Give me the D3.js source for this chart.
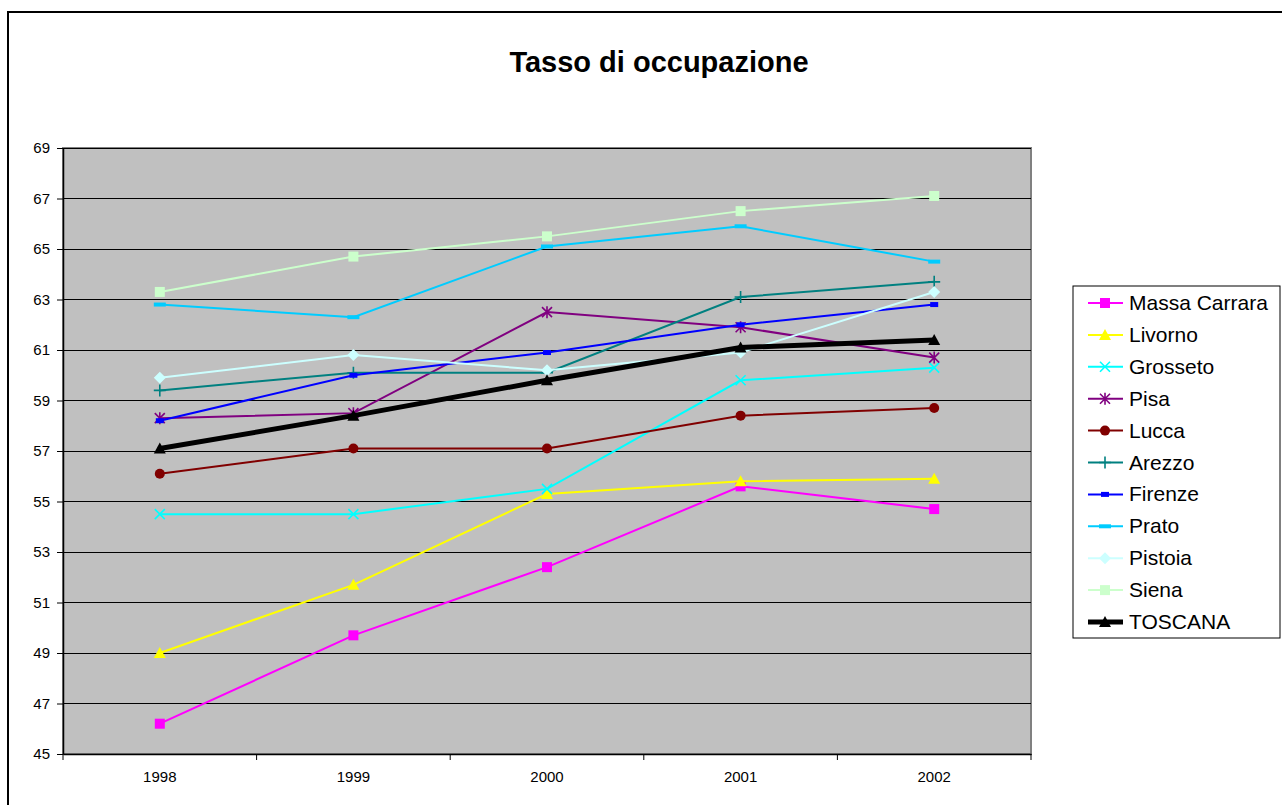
<!DOCTYPE html>
<html>
<head>
<meta charset="utf-8">
<script src="https://cdn.jsdelivr.net/npm/d3@7"></script>
<style>
  body { margin: 0; background: #fff; }
  text { font-family: 'Liberation Sans', Arial, sans-serif; }
</style>
</head>
<body>
<div id="chart"></div>
<script>
const years = ['1998', '1999', '2000', '2001', '2002'];
const massaCarrara = [46.2, 49.7, 52.4, 55.6, 54.7];
const livorno = [49.0, 51.7, 55.3, 55.8, 55.9];
const grosseto = [54.5, 54.5, 55.5, 59.8, 60.3];
const pisa = [58.3, 58.5, 62.5, 61.9, 60.7];
const lucca = [56.1, 57.1, 57.1, 58.4, 58.7];
const arezzo = [59.4, 60.1, 60.1, 63.1, 63.7];
const firenze = [58.2, 60.0, 60.9, 62.0, 62.8];
const prato = [62.8, 62.3, 65.1, 65.9, 64.5];
const pistoia = [59.9, 60.8, 60.2, 60.9, 63.3];
const siena = [63.3, 64.7, 65.5, 66.5, 67.1];
const toscana = [57.1, 58.4, 59.8, 61.1, 61.4];
const seriesNames = ['Massa Carrara', 'Livorno', 'Grosseto', 'Pisa', 'Lucca', 'Arezzo',
  'Firenze', 'Prato', 'Pistoia', 'Siena', 'TOSCANA'];
const seriesColors = ['#ff00ff', '#ffff00', '#00ffff', '#800080', '#800000', '#008080',
  '#0000ff', '#00ccff', '#ccffff', '#ccffcc', '#000000'];
const seriesMarkers = ['square', 'triangle', 'x', 'star', 'circle', 'plus',
  'bar', 'dash', 'diamond', 'square', 'triangle'];
const yTicks = d3.range(45, 70, 2);

const series = seriesNames.map((name, i) => ({
  name,
  color: seriesColors[i],
  marker: seriesMarkers[i],
  values: [massaCarrara, livorno, grosseto, pisa, lucca, arezzo, firenze, prato, pistoia, siena, toscana][i],
}));

const width = 1282;
const height = 805;
const margin = { top: 148, right: 251, bottom: 51, left: 63 };

const x = d3.scaleBand()
  .domain(years)
  .range([margin.left, width - margin.right])
  .padding(0);

const y = d3.scaleLinear()
  .domain([45, 69])
  .range([height - margin.bottom, margin.top]);

const svg = d3.select('#chart')
  .append('svg')
  .attr('width', width)
  .attr('height', height);

// outer chart frame
svg.append('rect')
  .attr('x', 8).attr('y', 12)
  .attr('width', width + 20).attr('height', height + 20)
  .attr('fill', '#fff')
  .attr('stroke', '#000')
  .attr('stroke-width', 2);

svg.append('text')
  .attr('x', 659)
  .attr('y', 72)
  .attr('text-anchor', 'middle')
  .attr('font-size', 29)
  .attr('font-weight', 'bold')
  .text('Tasso di occupazione');

// plot area
svg.append('rect')
  .attr('x', margin.left).attr('y', margin.top)
  .attr('width', width - margin.right - margin.left)
  .attr('height', height - margin.bottom - margin.top)
  .attr('fill', '#c0c0c0')
  .attr('stroke', '#808080')
  .attr('stroke-width', 2);

// gridlines
svg.append('g')
  .selectAll('line')
  .data(yTicks.slice(1))
  .join('line')
  .attr('x1', margin.left)
  .attr('x2', width - margin.right)
  .attr('y1', (d) => y(d))
  .attr('y2', (d) => y(d))
  .attr('stroke', '#000')
  .attr('stroke-width', 1)
  .attr('shape-rendering', 'crispEdges');

const yAxis = (g) => g
  .attr('transform', `translate(${margin.left},0)`)
  .call(d3.axisLeft(y).tickValues(yTicks).tickSize(6).tickSizeOuter(0).tickPadding(7))
  .call((g) => g.select('.domain').attr('stroke', '#000').attr('stroke-width', 1.5))
  .call((g) => g.selectAll('text').attr('font-size', 15).attr('fill', '#000')
    .attr('font-family', "'Liberation Sans', Arial, sans-serif"));

const xAxis = (g) => g
  .attr('transform', `translate(0,${height - margin.bottom})`)
  .call(d3.axisBottom(x).tickSize(0).tickPadding(17))
  .call((g) => g.select('.domain').attr('stroke', '#000').attr('stroke-width', 1.5))
  .call((g) => g.selectAll('text').attr('font-size', 15).attr('fill', '#000')
    .attr('font-family', "'Liberation Sans', Arial, sans-serif"));

svg.append('g').classed('y-axis', true).call(yAxis);
svg.append('g').classed('x-axis', true).call(xAxis);

// category boundary ticks on the x axis
svg.append('g')
  .selectAll('line')
  .data(years.concat(['end']))
  .join('line')
  .attr('x1', (d, i) => margin.left + i * x.bandwidth())
  .attr('x2', (d, i) => margin.left + i * x.bandwidth())
  .attr('y1', height - margin.bottom)
  .attr('y2', height - margin.bottom + 6)
  .attr('stroke', '#000');

function drawMarker(g, type, color, cx, cy) {
  if (type === 'square') {
    g.append('rect').attr('x', cx - 5).attr('y', cy - 5).attr('width', 10).attr('height', 10)
      .attr('fill', color);
  } else if (type === 'triangle') {
    g.append('path').attr('d', `M${cx},${cy - 6}L${cx + 6},${cy + 5}L${cx - 6},${cy + 5}Z`)
      .attr('fill', color);
  } else if (type === 'circle') {
    g.append('circle').attr('cx', cx).attr('cy', cy).attr('r', 5).attr('fill', color);
  } else if (type === 'diamond') {
    g.append('path').attr('d', `M${cx},${cy - 6}L${cx + 6},${cy}L${cx},${cy + 6}L${cx - 6},${cy}Z`)
      .attr('fill', color);
  } else if (type === 'bar') {
    g.append('rect').attr('x', cx - 4).attr('y', cy - 2.5).attr('width', 8).attr('height', 5)
      .attr('fill', color);
  } else if (type === 'dash') {
    g.append('rect').attr('x', cx - 6).attr('y', cy - 2).attr('width', 12).attr('height', 4)
      .attr('fill', color);
  } else {
    let d = '';
    if (type === 'x' || type === 'star') d += `M${cx - 5},${cy - 5}L${cx + 5},${cy + 5}M${cx + 5},${cy - 5}L${cx - 5},${cy + 5}`;
    if (type === 'star') d += `M${cx},${cy - 6}L${cx},${cy + 6}`;
    if (type === 'plus') d += `M${cx - 6},${cy}L${cx + 6},${cy}M${cx},${cy - 6}L${cx},${cy + 6}`;
    g.append('path').attr('d', d).attr('stroke', color).attr('stroke-width', 1.6).attr('fill', 'none');
  }
}

const line = d3.line()
  .x((d, i) => x(years[i]) + x.bandwidth() / 2)
  .y((d) => y(d));

const lines = svg.append('g');
series.forEach((s) => {
  lines.append('path')
    .datum(s.values)
    .attr('d', line)
    .attr('fill', 'none')
    .attr('stroke', s.color)
    .attr('stroke-width', s.name === 'TOSCANA' ? 5 : 2);
  const mg = lines.append('g');
  s.values.forEach((v, i) => drawMarker(mg, s.marker, s.color, x(years[i]) + x.bandwidth() / 2, y(v)));
});

// legend
const legend = svg.append('g').attr('transform', 'translate(1073,286)');
legend.append('rect')
  .attr('width', 207).attr('height', 352)
  .attr('fill', '#fff')
  .attr('stroke', '#000')
  .attr('stroke-width', 1);

series.forEach((s, i) => {
  const ly = 17 + i * 31.9;
  const item = legend.append('g');
  item.append('line')
    .attr('x1', 15).attr('x2', 50)
    .attr('y1', ly).attr('y2', ly)
    .attr('stroke', s.color)
    .attr('stroke-width', s.name === 'TOSCANA' ? 5 : 2);
  drawMarker(item, s.marker, s.color, 32, ly);
  item.append('text')
    .attr('x', 56)
    .attr('y', ly + 7)
    .attr('font-size', 21)
    .text(s.name);
});
</script>
</body>
</html>
